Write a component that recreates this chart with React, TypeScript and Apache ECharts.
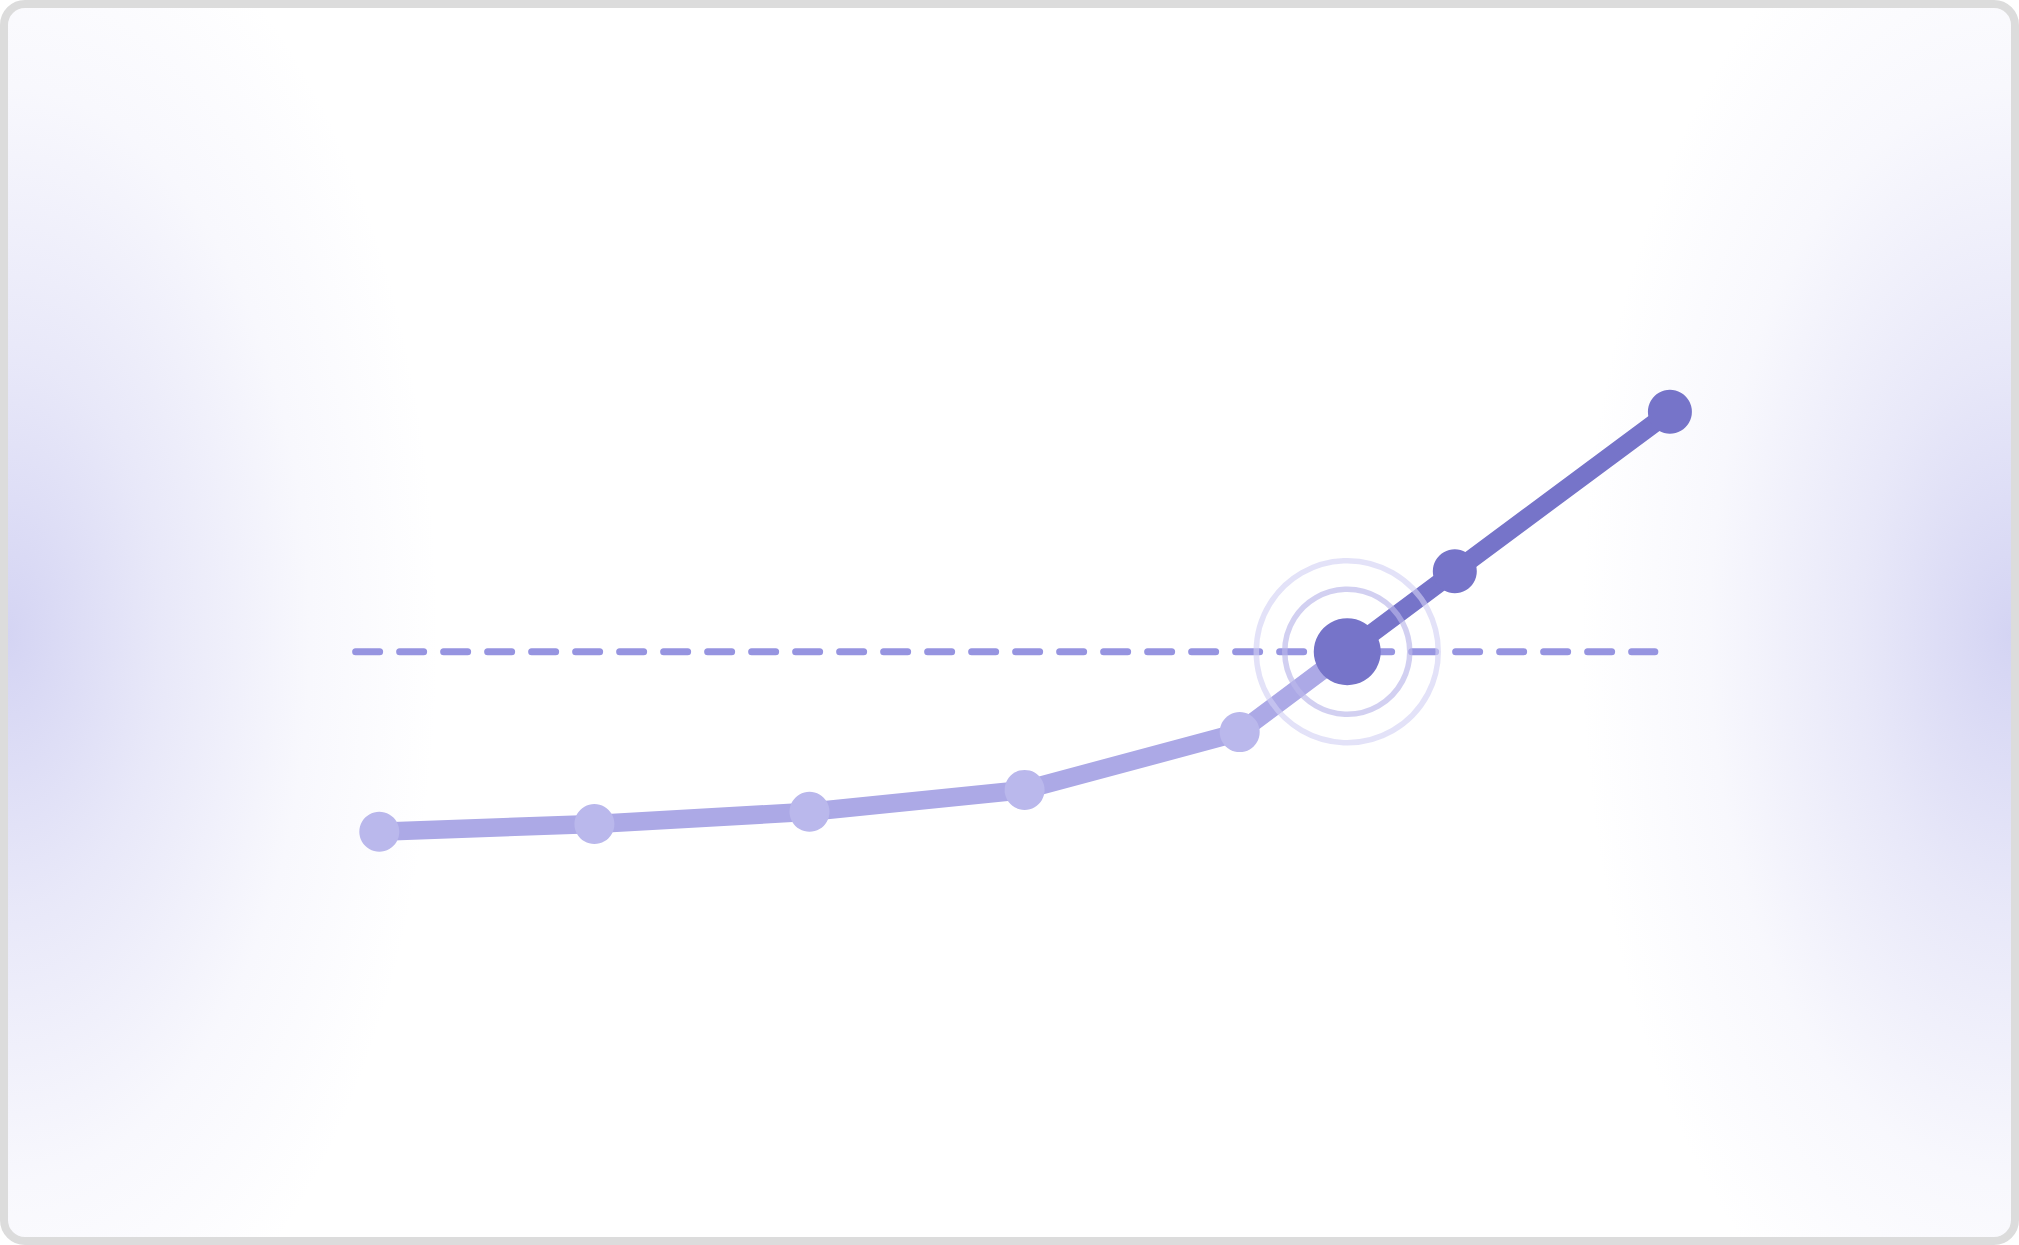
import React, { useEffect, useRef } from 'react';
import * as echarts from 'echarts';

// Progress values per step, and the target they cross
const steps = [0, 1, 2, 3, 4, 5, 6];
const values = [25, 28.2, 33.3, 42.4, 66.5, 133.5, 200];
const target = 100;
// x-extent of the dashed target line, in step units
const targetFrom = -0.11;
const targetTo = 5.93;

const LIGHT_LINE = '#aca9e6';
const LIGHT_DOT = '#bab8ec';
const DARK = '#7674c9';
const DASH = '#9694e0';

const App: React.FC = () => {
	const chartRef = useRef<HTMLDivElement>(null);

	useEffect(() => {
		if (!chartRef.current) return;
		const chart = echarts.init(chartRef.current, undefined, { renderer: 'svg' });

		// Where the curve crosses the target
		let k = 0;
		while (k < values.length - 1 && !(values[k] < target && values[k + 1] >= target)) k++;
		const t = (target - values[k]) / (values[k + 1] - values[k]);
		const crossX = steps[k] + t * (steps[k + 1] - steps[k]);
		const cross = { value: [crossX, target], symbol: 'none' };

		const below: any[] = [];
		const above: any[] = [];
		steps.forEach((s, i) => {
			if (i <= k) below.push([s, values[i]]);
			else above.push([s, values[i]]);
		});
		below.push(cross);
		above.unshift(cross);

		const ring = (size: number, color: string) => ({
			type: 'scatter',
			silent: true,
			z: 4,
			symbol: 'circle',
			symbolSize: size,
			data: [[crossX, target]],
			itemStyle: { color: 'rgba(0,0,0,0)', borderColor: color, borderWidth: 5.5, opacity: 1 }
		});

		const option: echarts.EChartsOption = {
			animation: false,
			backgroundColor: 'transparent',
			grid: { left: 164.2, right: 134, top: 291.7, bottom: 353.3 },
			xAxis: { type: 'value', min: -1, max: 7, show: false, splitLine: { show: false } },
			yAxis: { type: 'value', min: 0, max: 250, show: false, splitLine: { show: false } },
			series: [
				{
					name: 'target',
					type: 'line',
					silent: true,
					z: 1,
					symbol: 'none',
					data: [[targetFrom, target], [targetTo, target]],
					lineStyle: { color: DASH, width: 7, type: [24, 20], cap: 'round' }
				},
				{
					name: 'before',
					type: 'line',
					silent: true,
					z: 2,
					symbol: 'circle',
					symbolSize: 40,
					data: below,
					itemStyle: { color: LIGHT_DOT },
					lineStyle: { color: LIGHT_LINE, width: 18.5, join: 'round' }
				},
				{
					name: 'after',
					type: 'line',
					silent: true,
					z: 3,
					symbol: 'circle',
					symbolSize: 44,
					data: above,
					itemStyle: { color: DARK },
					lineStyle: { color: DARK, width: 18.5, join: 'round' }
				},
				ring(182, 'rgba(210,209,244,0.62)') as any,
				ring(125, 'rgba(186,184,234,0.66)') as any,
				{
					name: 'crossing',
					type: 'scatter',
					silent: true,
					z: 5,
					symbol: 'circle',
					symbolSize: 67,
					data: [[crossX, target]],
					itemStyle: { color: DARK, opacity: 1 }
				}
			]
		};

		chart.setOption(option);
		return () => {
			chart.dispose();
		};
	}, []);

	const glow = (side: string) =>
		`radial-gradient(ellipse 430px 780px at ${side} 51%, rgba(200,200,240,0.78) 0%, rgba(200,200,240,0.42) 35%, rgba(200,200,240,0.13) 70%, rgba(200,200,240,0) 100%)`;

	return (
		<div style={{ position: 'fixed', left: 0, top: 0, width: '2019px', height: '1245px' }}>
			<div
				style={{
					position: 'absolute',
					inset: 0,
					boxSizing: 'border-box',
					border: '8px solid #dcdcdc',
					borderRadius: '25px',
					background: `${glow('0%')}, ${glow('100%')}, #ffffff`
				}}
			/>
			<div ref={chartRef} style={{ position: 'absolute', left: 0, top: 0, width: '2019px', height: '1245px' }} />
		</div>
	);
};

export default App;
